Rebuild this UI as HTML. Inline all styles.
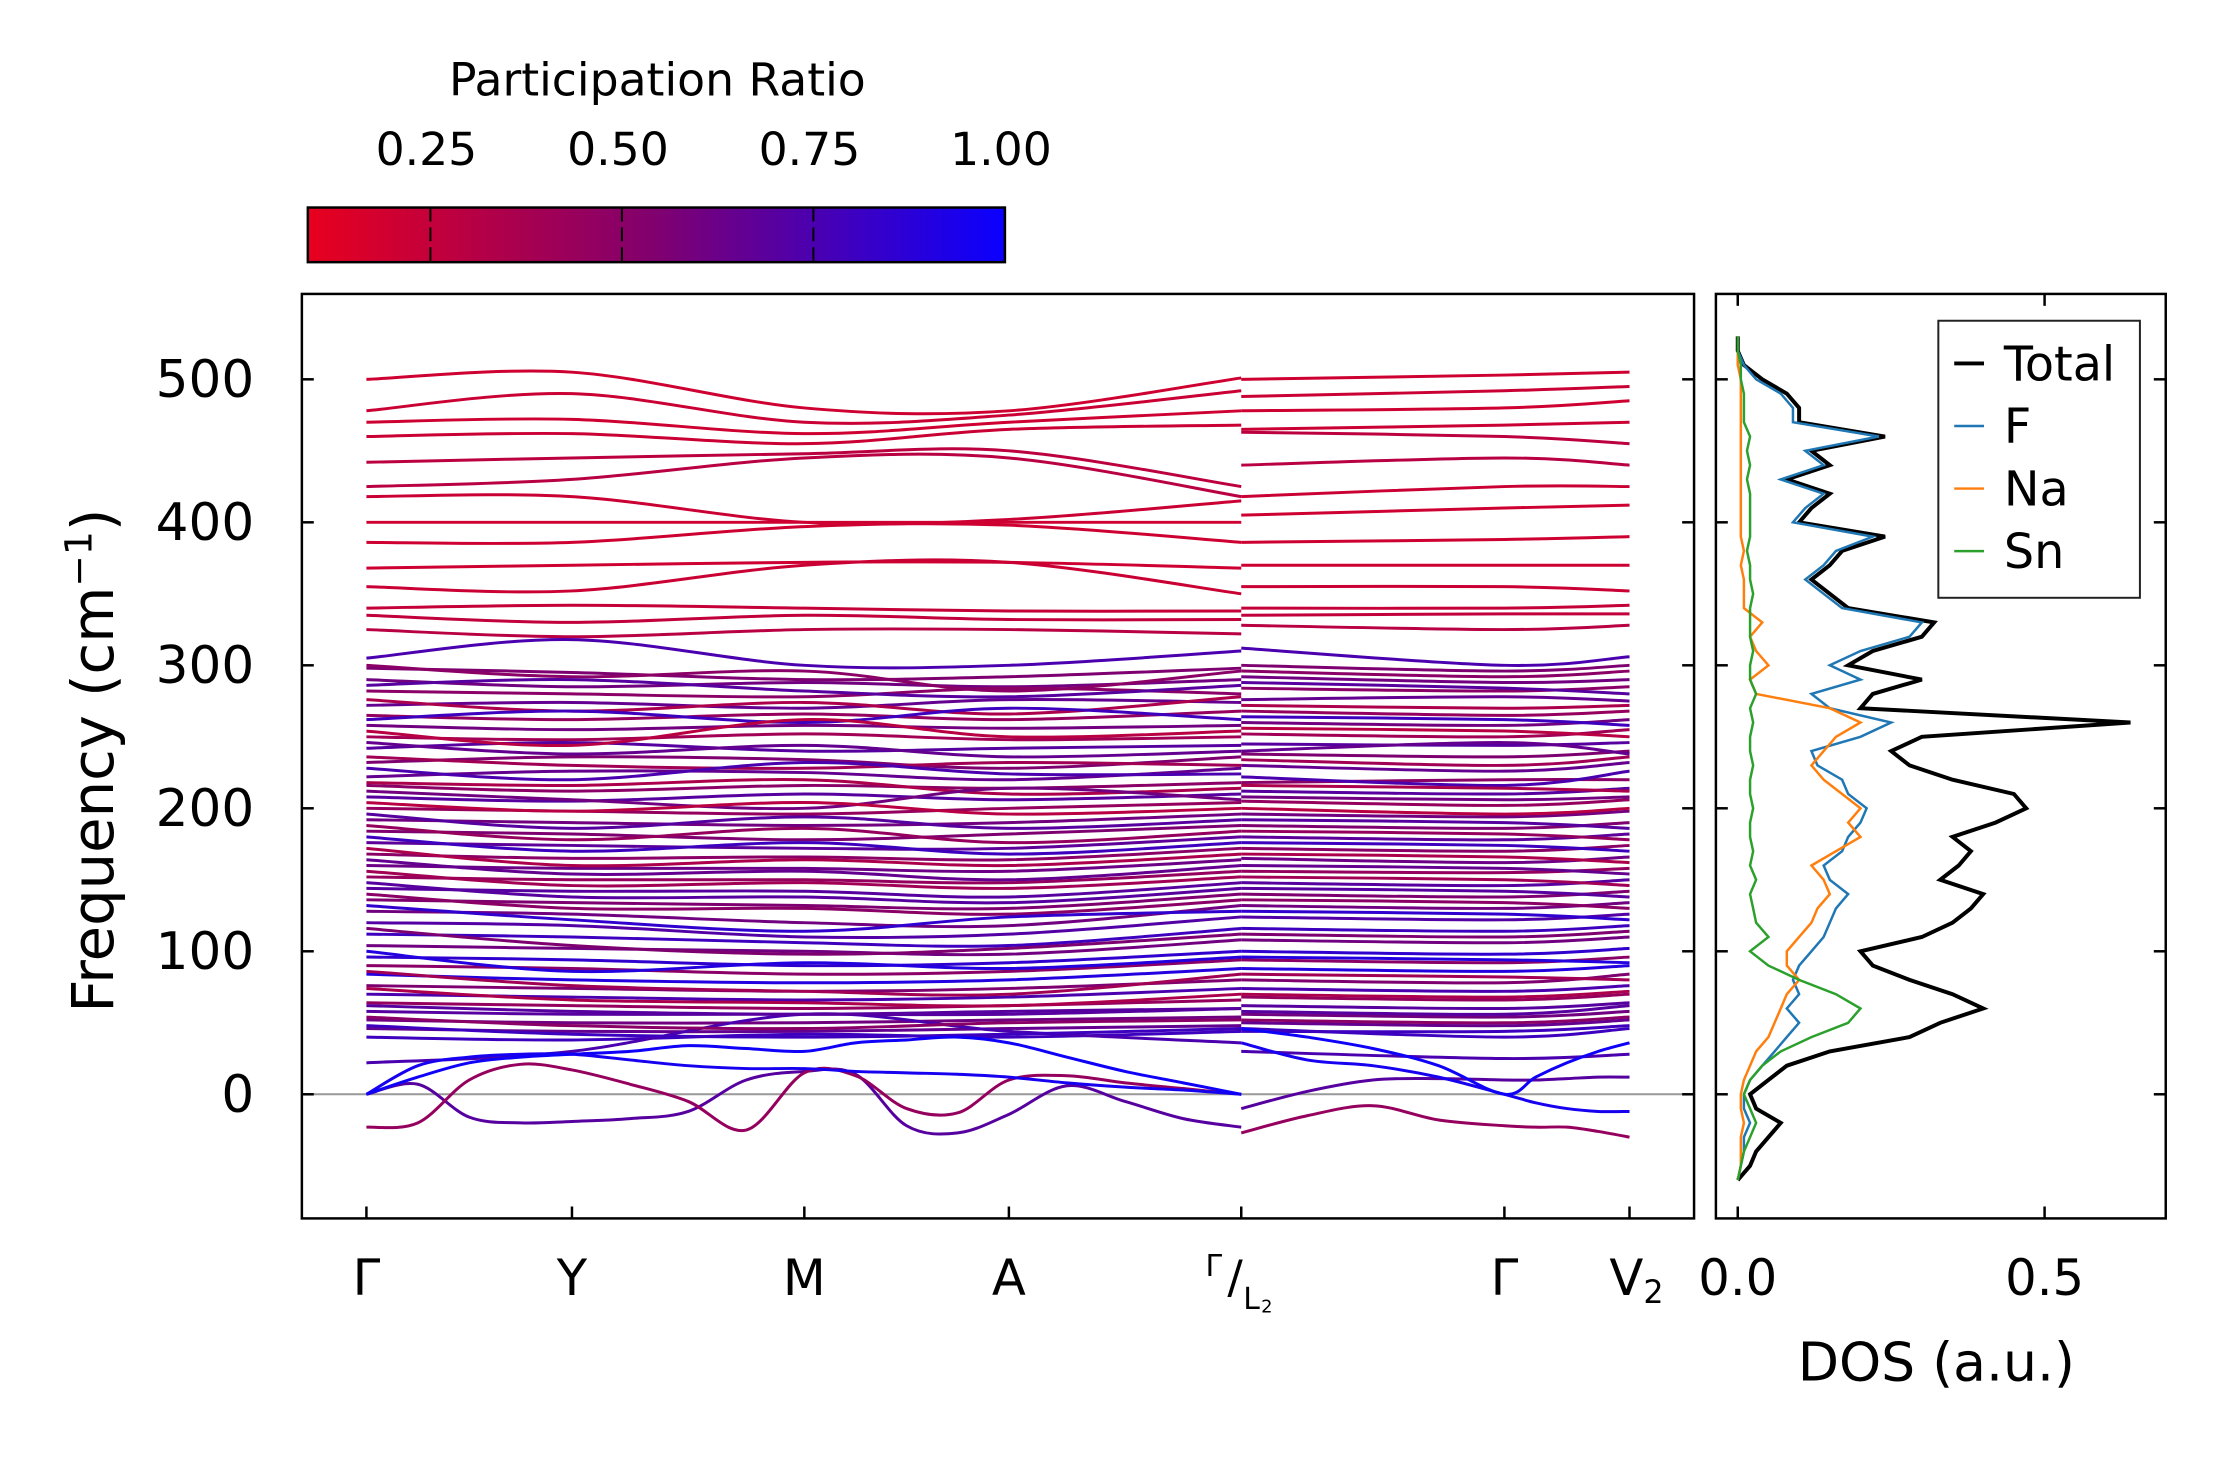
<!DOCTYPE html>
<html><head><meta charset="utf-8"><style>
html,body{margin:0;padding:0;background:#fff;}
svg text{font-family:"DejaVu Sans","Liberation Sans",sans-serif;fill:#000;}
</style></head><body>
<svg id="chart" width="2222" height="1455" viewBox="0 0 2222 1455" xmlns="http://www.w3.org/2000/svg">
<defs>
<linearGradient id="cmap" x1="0" x2="1" y1="0" y2="0">
<stop offset="0" stop-color="#e8001e"/><stop offset="0.5" stop-color="#80006f"/><stop offset="1" stop-color="#0a00ff"/>
</linearGradient>
<clipPath id="mainclip"><rect x="304" y="296" width="1402" height="931"/></clipPath>
<clipPath id="dosclip"><rect x="1728" y="296" width="453" height="931"/></clipPath>
</defs>
<g id="root" transform="scale(0.993)">
<g id="bands" clip-path="url(#mainclip)"></g>
<g id="dos" clip-path="url(#dosclip)"></g>
<g id="axes"></g>
</g>
</svg>
<script>
// ---- data ----
const kLabels = ["Γ","Y","M","A","Γ/L2","Γ","V2"];
const yTicks = [0,100,200,300,400,500];
const dosTicks = [0.0,0.5];
const cbTicks = [0.25,0.50,0.75,1.00];
// band frequencies at nodes [Γ, Y, M, A, Γ | L2, Γ, V2]
const bandFreqs = [
[500,505,480,478,501,500,503,505],[478,490,470,475,492,488,492,495],[470,472,462,470,478,478,480,485],
[460,462,455,465,468,465,468,470],[442,445,448,450,425,463,460,455],[425,430,445,445,418,440,445,440],
[418,418,400,402,415,418,425,425],[400,400,400,400,400,405,410,412],[386,386,397,398,386,386,388,390],
[368,370,372,372,368,370,370,370],[355,352,370,372,350,355,355,352],[340,342,340,338,338,340,340,342],
[335,330,335,332,332,335,336,336],[325,320,325,325,322,328,325,328],[305,318,300,300,310,312,300,306],
[298,295,290,292,298,300,296,300],[290,285,288,285,290,292,288,290],[282,280,278,284,280,284,282,285],
[272,274,270,276,274,276,278,275],[265,262,266,262,268,268,265,268],[258,255,258,256,258,260,258,262],
[250,248,252,248,250,252,250,255],[242,246,240,242,244,245,244,246],[232,236,234,228,236,238,236,240],
[222,226,225,220,228,230,226,232],[216,212,216,214,218,218,220,220],[208,205,210,206,210,212,210,214],
[200,198,196,200,204,205,202,206],[192,190,188,190,196,196,194,198],[184,182,178,182,188,188,186,190],
[176,174,172,172,180,180,178,182],[168,165,166,164,172,172,170,174],[160,158,158,156,164,165,162,166],
[152,150,150,148,156,156,155,158],[144,142,142,138,148,148,146,150],[136,134,132,130,140,140,138,142],
[128,126,120,118,132,132,130,134],[120,118,110,112,124,124,122,126],[112,110,106,104,116,116,114,118],
[104,102,100,98,108,108,106,110],[96,94,90,92,100,100,98,102],[90,88,84,86,94,94,92,96],
[84,80,78,80,88,88,86,90],[76,74,72,74,80,80,78,84],[70,68,66,68,74,74,72,76],
[64,62,60,62,66,68,66,70],[58,56,56,56,60,62,60,64],[52,50,50,52,54,56,54,58],
[46,44,44,46,48,50,48,52],[40,38,42,40,44,46,40,46],[22,30,56,44,36,30,25,28],
[300,292,296,282,296,296,292,296],[286,290,282,278,286,288,284,280],[276,268,274,266,278,272,270,272],
[262,268,260,270,262,264,262,258],[254,244,262,250,254,256,254,250],[246,238,244,236,240,240,246,238],
[236,230,228,232,230,234,230,236],[228,220,232,224,224,222,216,226],[218,216,220,210,214,216,214,212],
[212,206,200,214,206,208,206,208],[204,198,204,196,200,200,196,200],[196,186,194,186,192,192,190,186],
[188,178,186,176,184,184,182,178],[180,170,176,168,176,176,174,170],[172,160,164,160,168,168,166,162],
[164,154,156,150,160,160,158,154],[156,146,148,144,152,152,150,146],[148,138,138,134,144,144,142,138],
[140,130,130,126,136,136,134,130],[132,122,114,124,128,128,126,122],[116,104,98,102,112,112,110,114],
[100,86,92,88,96,96,94,92],[86,76,72,70,84,84,82,80],[74,66,64,62,70,70,68,72],
[62,58,56,58,60,58,56,62],[54,48,46,50,52,52,50,54],[48,42,40,42,46,44,44,48]
];
const bandPR = [0.2,0.22,0.2,0.22,0.28,0.3,0.22,0.2,0.2,0.2,0.22,0.24,0.26,0.3,0.75,0.55,0.6,0.5,0.65,0.45,0.6,
0.4,0.7,0.55,0.65,0.5,0.7,0.45,0.6,0.55,0.68,0.5,0.62,0.45,0.7,0.55,0.6,0.72,0.8,0.6,0.85,0.5,0.9,0.55,0.75,0.45,0.7,0.6,0.65,0.8,0.75,
0.5,0.7,0.35,0.8,0.3,0.65,0.4,0.75,0.35,0.6,0.3,0.7,0.45,0.8,0.35,0.65,0.4,0.7,0.5,0.85,0.55,0.9,0.4,0.35,0.7,0.5,0.8];
// low bands sampled at quarter-segment points: 17 on path 1, 9 on path 2
const lowFreqs = [
[0,7,-16,-20,-19,-17,-12,10,16,14,-22,-27,-14,6,-5,-17,-23, -10,2,10,11,10,10,11,12,12],
[-23,-20,10,21,17,7,-5,-25,15,13,-10,-13,10,13,8,4,0, -27,-15,-8,-18,-22,-23,-23,-26,-30],
[0,20,26,28,28,24,20,18,18,16,15,14,12,8,5,3,0, 36,24,20,12,0,-6,-10,-12,-12],
[0,12,22,26,28,30,34,32,30,36,38,40,36,26,16,8,0, 46,40,32,20,0,12,22,30,36]
];
const lowPR = [0.7,0.45,0.95,0.98];
const dosFreq = [];
const dosTotal = [0,0.02,0.03,0.05,0.07,0.03,0.02,0.05,0.08,0.15,0.28,0.33,0.4,0.35,0.28,0.22,0.2,0.3,0.35,0.38,0.4,0.33,0.36,0.38,0.35,0.42,0.47,0.45,0.35,0.28,0.25,0.3,0.64,0.2,0.22,0.3,0.18,0.22,0.3,0.32,0.18,0.15,0.12,0.15,0.17,0.24,0.1,0.12,0.15,0.08,0.15,0.12,0.24,0.1,0.1,0.08,0.04,0.01,0,0];
const dosF = [0,0.005,0.01,0.01,0.02,0.01,0.01,0.02,0.04,0.06,0.08,0.1,0.08,0.1,0.09,0.1,0.12,0.14,0.15,0.16,0.18,0.15,0.14,0.17,0.18,0.2,0.21,0.18,0.17,0.13,0.12,0.2,0.25,0.15,0.12,0.2,0.15,0.2,0.28,0.3,0.17,0.14,0.11,0.14,0.16,0.22,0.09,0.11,0.14,0.07,0.14,0.11,0.23,0.09,0.09,0.07,0.03,0.01,0,0];
const dosNa = [0,0.005,0.005,0.005,0.01,0.005,0.005,0.01,0.02,0.03,0.05,0.06,0.07,0.08,0.1,0.08,0.08,0.1,0.12,0.13,0.15,0.14,0.12,0.16,0.2,0.18,0.2,0.17,0.14,0.12,0.14,0.16,0.2,0.15,0.03,0.02,0.05,0.03,0.02,0.04,0.01,0.01,0.01,0.005,0.01,0.005,0.005,0.005,0.005,0.005,0.005,0.005,0.005,0.005,0.005,0.005,0.005,0,0,0];
const dosSn = [0,0.005,0.01,0.02,0.03,0.02,0.01,0.02,0.04,0.07,0.12,0.18,0.2,0.16,0.1,0.05,0.02,0.05,0.03,0.025,0.02,0.03,0.02,0.025,0.02,0.02,0.025,0.02,0.02,0.025,0.02,0.02,0.025,0.02,0.03,0.02,0.02,0.025,0.02,0.02,0.02,0.025,0.02,0.02,0.015,0.02,0.02,0.02,0.02,0.015,0.02,0.015,0.02,0.01,0.01,0.01,0.005,0.005,0,0];
for(let i=0;i<dosTotal.length;i++) dosFreq.push(-60+10*i);

// ---- scales ----
const NS="http://www.w3.org/2000/svg";
const kX = [369,576,810,1016,1250,1250,1515,1641];
const y = f => 1102 - f*1.44;
const dx = d => 1750 + d*618;
const prMin=0.09, prMax=1.0;
function prColor(p){
  const t=Math.max(0,Math.min(1,(p-prMin)/(prMax-prMin)));
  let r,g,b;
  if(t<0.5){const u=t/0.5;r=232+(128-232)*u;g=0;b=30+(111-30)*u;}
  else{const u=(t-0.5)/0.5;r=128+(10-128)*u;g=0;b=111+(255-111)*u;}
  return `rgb(${r|0},${g|0},${b|0})`;
}
function el(tag,attrs,parent){const e=document.createElementNS(NS,tag);for(const k in attrs)e.setAttribute(k,attrs[k]);parent.appendChild(e);return e;}
function smoothPath(pts){
  let d=`M${pts[0][0]},${pts[0][1]}`;
  for(let i=0;i<pts.length-1;i++){
    const p0=pts[Math.max(0,i-1)],p1=pts[i],p2=pts[i+1],p3=pts[Math.min(pts.length-1,i+2)];
    const c1=[p1[0]+(p2[0]-p0[0])/6,p1[1]+(p2[1]-p0[1])/6],c2=[p2[0]-(p3[0]-p1[0])/6,p2[1]-(p3[1]-p1[1])/6];
    d+=`C${c1[0].toFixed(1)},${c1[1].toFixed(1)} ${c2[0].toFixed(1)},${c2[1].toFixed(1)} ${p2[0].toFixed(1)},${p2[1].toFixed(1)}`;
  }
  return d;
}
const gB=document.getElementById('bands');
const zl=el('line',{x1:304,x2:1706,y1:y(0),y2:y(0),stroke:'#999','stroke-width':2},gB);


bandFreqs.forEach((fs,i)=>{
  const c=prColor(bandPR[i]);
  const p1=fs.slice(0,5).map((f,j)=>[kX[j],y(f)]);
  const p2=fs.slice(5).map((f,j)=>[kX[j+5],y(f)]);
  [p1,p2].forEach(pts=>{
    const p=el('path',{d:smoothPath(pts),fill:'none',stroke:c,'stroke-width':3},gB);
    
    
  });
});
lowFreqs.forEach((fs,i)=>{
  const c=prColor(lowPR[i]);
  const p1=[],p2=[];
  for(let j=0;j<17;j++){const s=Math.min(3,Math.floor(j/4)),u=(j-s*4)/4;p1.push([kX[s]+(kX[s+1]-kX[s])*u,y(fs[j])]);}
  for(let j=0;j<9;j++){const s=Math.min(1,Math.floor(j/4)),u=(j-s*4)/4;p2.push([kX[5+s]+(kX[6+s]-kX[5+s])*u,y(fs[17+j])]);}
  [p1,p2].forEach(pts=>{
    const p=el('path',{d:smoothPath(pts),fill:'none',stroke:c,'stroke-width':3},gB);
    
    
  });
});
// DOS
const gD=document.getElementById('dos');
[[dosTotal,'#000',4,'dos-total'],[dosF,'#1f77b4',2.5,'dos-f'],[dosNa,'#ff7f0e',2.5,'dos-na'],[dosSn,'#2ca02c',2.5,'dos-sn']].forEach(([arr,c,w,n])=>{
  const pts=arr.map((v,i)=>`${dx(v).toFixed(1)},${y(dosFreq[i]).toFixed(1)}`).join(' ');
  const p=el('polyline',{points:pts,fill:'none',stroke:c,'stroke-width':w},gD);
  
  
});
// axes
const gA=document.getElementById('axes');
function frame(x,yy,w,h,name){const r=el('rect',{x:x,y:yy,width:w,height:h,fill:'none',stroke:'#000','stroke-width':2.5},gA);}
frame(304,296,1402,931,'band-plot-frame');
frame(1728,296,453,931,'dos-plot-frame');
function txt(s,x,yy,size,anchor,name,extra){const t=el('text',Object.assign({x:x,y:yy,'font-size':size,'text-anchor':anchor},extra||{}),gA);t.textContent=s;return t;}
yTicks.forEach(v=>{
  const yy=y(v);
  el('line',{x1:304,x2:316,y1:yy,y2:yy,stroke:'#000','stroke-width':2.5},gA);
  el('line',{x1:1694,x2:1706,y1:yy,y2:yy,stroke:'#000','stroke-width':2.5},gA);
  el('line',{x1:1728,x2:1740,y1:yy,y2:yy,stroke:'#000','stroke-width':2.5},gA);
  el('line',{x1:2169,x2:2181,y1:yy,y2:yy,stroke:'#000','stroke-width':2.5},gA);
  txt(String(v),256,yy+18,52,'end','y-tick-label');
});
const kTickX=[369,576,810,1016,1250,1515,1641];
kTickX.forEach((x,i)=>{
  el('line',{x1:x,x2:x,y1:1215,y2:1227,stroke:'#000','stroke-width':2.5},gA);
  if(i!==4 && i!==6) txt(kLabels[i],x,1304,50,'middle','k-point-label');
});
const v2=txt('V',1648,1304,50,'middle','k-point-label-v2');
const v2s=el('tspan',{'font-size':32,dy:8},v2);v2s.textContent='2';
txt('Γ',1214,1285,30,'start','k-point-label-gamma-small');
txt('/',1236,1302,46,'start','k-point-label-slash');
txt('L',1252,1318,30,'start','k-point-label-l');
txt('2',1270,1322,18,'start','k-point-label-sub');
dosTicks.forEach(v=>{
  el('line',{x1:dx(v),x2:dx(v),y1:1215,y2:1227,stroke:'#000','stroke-width':2.5},gA);
  el('line',{x1:dx(v),x2:dx(v),y1:296,y2:308,stroke:'#000','stroke-width':2.5},gA);
  txt(v.toFixed(1),dx(v),1304,50,'middle','dos-tick-label');
});
txt('DOS (a.u.)',1950,1390,54,'middle','dos-axis-title');
const yt=txt('Frequency (cm',0,0,58,'middle','y-axis-title',{transform:'translate(114,766) rotate(-90)'});
const ts=el('tspan',{'font-size':38,dy:-22},yt);ts.textContent='−1';
const ts2=el('tspan',{dy:22},yt);ts2.textContent=')';
// legend
const lg=el('rect',{x:1952,y:323,width:203,height:279,fill:'#fff',stroke:'#222','stroke-width':2},gA);


[['Total','#000',4],['F','#1f77b4',2.5],['Na','#ff7f0e',2.5],['Sn','#2ca02c',2.5]].forEach(([n,c,w],i)=>{
  const yy=366+i*63;
  el('line',{x1:1968,x2:1998,y1:yy,y2:yy,stroke:c,'stroke-width':w},gA);
  txt(n,2018,yy+17,48,'start','legend-entry');
});
// colorbar
const cb=el('rect',{x:310,y:209,width:702,height:55,fill:'url(#cmap)',stroke:'#000','stroke-width':2.5},gA);


const cbx=v=>310+(v-prMin)/(prMax-prMin)*702;
cbTicks.forEach(v=>{
  if(v<1) el('line',{x1:cbx(v),x2:cbx(v),y1:209,y2:264,stroke:'#000','stroke-width':2,'stroke-dasharray':'14,6'},gA);
  txt(v.toFixed(2),cbx(v)-4,166,46,'middle','colorbar-tick-label');
});
txt('Participation Ratio',662,96,46,'middle','colorbar-title');
</script>
</body></html>
